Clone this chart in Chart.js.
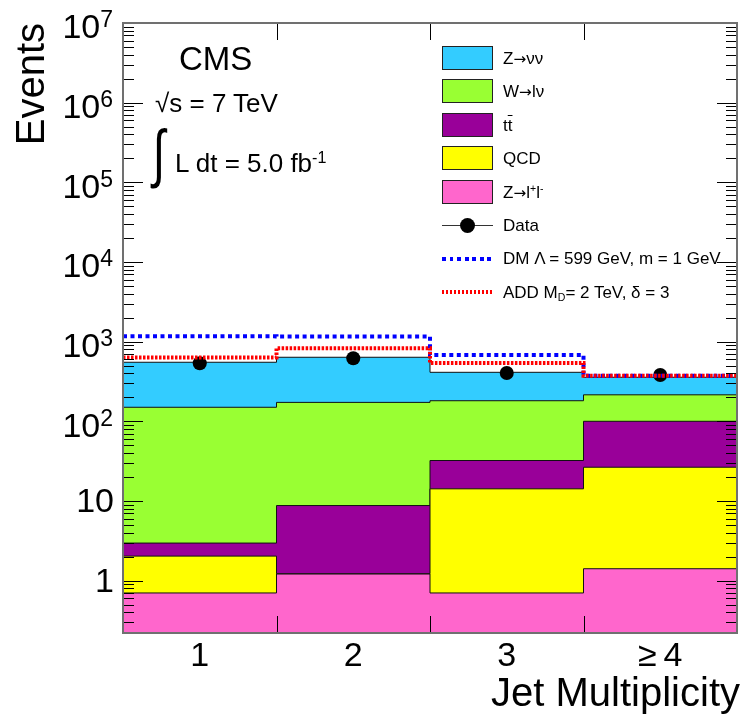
<!DOCTYPE html>
<html>
<head>
<meta charset="utf-8">
<script src="https://cdn.jsdelivr.net/npm/chart.js@4.4.1/dist/chart.umd.min.js"></script>
<style>
  body { margin: 0; background: #fff; }
  #wrap { position: relative; width: 744px; height: 716px; font-family: "Liberation Sans", Arial, sans-serif; color: #000; }
  #wrap canvas { position: absolute; left: 0; top: 0; }
  .txt { position: absolute; white-space: nowrap; line-height: 1; }
  .txt sup { font-size: 62%; vertical-align: 0.55em; line-height: 0; }
  .txt sub { font-size: 62%; vertical-align: -0.25em; line-height: 0; }
  .arrow { font-family: "DejaVu Sans", sans-serif; font-size: 90%; }
  .box { position: absolute; left: 442px; width: 49px; height: 22px; border: 1.5px solid #222; }
  .leg { position: absolute; left: 503px; font-size: 17px; line-height: 1; white-space: nowrap; }
  .sym { position: absolute; left: 442px; width: 51px; }
</style>
</head>
<body>
<div id="wrap">
  <canvas id="chart" width="744" height="716"></canvas>

  <div class="txt" style="left:179px; top:42px; font-size:33px">CMS</div>
  <div class="txt" style="left:155px; top:90px; font-size:26px">√s = 7 TeV</div>
  <div class="txt" style="left:150px; top:121px; font-size:64px; transform:scaleX(0.7)">∫</div>
  <div class="txt" style="left:175px; top:150px; font-size:26px">L dt = 5.0 fb<sup>-1</sup></div>

  <div id="legend"></div>
</div>

<script>
// bins of the histogram
const BIN_LABELS = ["1", "2", "3", "≥\u20094"]
const BIN_EDGES = [0, 1, 2, 3, 4]

// backgrounds, events per bin (stacked bottom to top)
// QCD in bin 2 is too small to see, a log axis can't take 0
const ZLL = [0.70, 1.21, 0.70, 1.41]
const QCD = [1.33, 0.01, 13.5, 25.1]
const TTBAR = [0.93, 7.54, 18.0, 73.5]
const WLNU = [147, 164, 149, 115]
const ZNUNU = [401, 464, 231, 142]

// data and signals
const DATA = [535, 618, 404, 381]
const DM = [1169, 1156, 681, 373]
const ADD = [630, 826, 540, 373]

// y axis
const Y_LABELS = [1, 10, 100, 1000, 1e4, 1e5, 1e6, 1e7]
const Y_MIN = 0.22
const Y_MAX = 1e7

const FONT = "'Liberation Sans', Arial, sans-serif"


// histogram points for stepped line
function steps(values) {
  const points = values.map(function (v, i) {
    return { x: BIN_EDGES[i], y: v }
  })
  points.push({ x: BIN_EDGES[values.length], y: values[values.length - 1] })
  return points
}


// background datasets, each filled down to the axis,
// lower ones are drawn later and cover the upper ones
const backgrounds = [
  { label: "Z→l+l-", values: ZLL, color: "#ff66cc" },
  { label: "QCD", values: QCD, color: "#ffff00" },
  { label: "tt", values: TTBAR, color: "#990099" },
  { label: "W→lν", values: WLNU, color: "#99ff33" },
  { label: "Z→νν", values: ZNUNU, color: "#33ccff" },
]

const datasets = backgrounds.map(function (b) {
  return {
    label: b.label,
    data: steps(b.values),
    stepped: true,
    fill: "start",
    backgroundColor: b.color,
    borderColor: "#111",
    borderWidth: 1,
    pointRadius: 0,
    stack: "mc",
  }
})

datasets.push({
  label: "Data",
  data: DATA.map(function (v, i) { return { x: i + 0.5, y: v } }),
  showLine: false,
  pointRadius: 7,
  pointBackgroundColor: "#000",
  pointBorderWidth: 0,
  stack: "data",
  order: -1,
})

datasets.push({
  label: "DM",
  data: steps(DM),
  stepped: true,
  fill: false,
  borderColor: "#0000ff",
  borderWidth: 4,
  borderDash: [4, 3.5],
  pointRadius: 0,
  stack: "dm",
  order: -2,
})

datasets.push({
  label: "ADD",
  data: steps(ADD),
  stepped: true,
  fill: false,
  borderColor: "#ff0000",
  borderWidth: 4,
  borderDash: [2.5, 1.5],
  pointRadius: 0,
  stack: "add",
  order: -3,
})


// y label like 10^3
function drawYLabel(ctx, value, y) {
  const exp = Math.round(Math.log10(value))
  ctx.fillStyle = "#000"
  ctx.textBaseline = "middle"
  ctx.textAlign = "right"

  if (exp < 2) {
    ctx.font = "34px " + FONT
    ctx.fillText(String(value), 114, y + 2)
    return
  }

  ctx.font = "23px " + FONT
  const supWidth = ctx.measureText(String(exp)).width
  ctx.fillText(String(exp), 113, y - 2)
  ctx.font = "34px " + FONT
  ctx.fillText("10", 113 - supWidth, y + 6)
}


// frame, ticks and labels
const framePlugin = {
  id: "frame",
  afterDatasetsDraw: function (chart) {
    const ctx = chart.ctx
    const area = chart.chartArea
    const xs = chart.scales.x
    const ys = chart.scales.y

    ctx.save()
    ctx.strokeStyle = "#000"
    ctx.lineWidth = 1

    // y ticks, both sides
    for (let e = -1; e <= 6; e++) {
      for (let m = 1; m <= 9; m++) {
        const v = m * Math.pow(10, e)
        if (v < Y_MIN || v > Y_MAX) continue
        const y = Math.round(ys.getPixelForValue(v)) + 0.5
        const len = m === 1 ? 20 : 11
        ctx.beginPath()
        ctx.moveTo(area.left, y)
        ctx.lineTo(area.left + len, y)
        ctx.moveTo(area.right, y)
        ctx.lineTo(area.right - len, y)
        ctx.stroke()
      }
    }

    // x ticks at bin edges
    BIN_EDGES.slice(1, -1).forEach(function (edge) {
      const x = Math.round(xs.getPixelForValue(edge)) + 0.5
      ctx.beginPath()
      ctx.moveTo(x, area.bottom)
      ctx.lineTo(x, area.bottom - 17)
      ctx.moveTo(x, area.top)
      ctx.lineTo(x, area.top + 17)
      ctx.stroke()
    })

    // frame
    ctx.strokeStyle = "#707070"
    ctx.lineWidth = 2
    ctx.strokeRect(area.left, area.top, area.right - area.left, area.bottom - area.top)

    // y labels
    Y_LABELS.forEach(function (v) {
      drawYLabel(ctx, v, ys.getPixelForValue(v))
    })

    // x labels
    ctx.font = "34px " + FONT
    ctx.textAlign = "center"
    ctx.textBaseline = "middle"
    BIN_LABELS.forEach(function (label, i) {
      ctx.fillText(label, xs.getPixelForValue(i + 0.5), 657)
    })

    // axis titles
    ctx.font = "40px " + FONT
    ctx.textAlign = "right"
    ctx.textBaseline = "alphabetic"
    ctx.fillText("Jet Multiplicity", 740, 706)

    ctx.translate(44, 23)
    ctx.rotate(-Math.PI / 2)
    ctx.fillText("Events", 0, 0)

    ctx.restore()
  },
}


// chart
new Chart(document.getElementById("chart"), {
  type: "line",
  data: { datasets: datasets },
  options: {
    responsive: false,
    devicePixelRatio: 1,
    animation: false,
    layout: { padding: { left: 123, top: 23, right: 1, bottom: 83 } },
    plugins: {
      legend: { display: false },
      tooltip: { enabled: false },
    },
    scales: {
      x: { type: "linear", display: false, min: 0, max: 4 },
      y: { type: "logarithmic", display: false, min: Y_MIN, max: Y_MAX, stacked: true },
    },
  },
  plugins: [framePlugin],
})


// legend entries
const ARROW = "<span class=\"arrow\">→</span>"
const LEGEND = [
  { kind: "box", color: "#33ccff", html: "Z" + ARROW + "νν" },
  { kind: "box", color: "#99ff33", html: "W" + ARROW + "lν" },
  { kind: "box", color: "#990099", html: "t<span style=\"text-decoration:overline\">t</span>" },
  { kind: "box", color: "#ffff00", html: "QCD" },
  { kind: "box", color: "#ff66cc", html: "Z" + ARROW + "l<sup>+</sup>l<sup>-</sup>" },
  { kind: "data", html: "Data" },
  { kind: "dm", html: "DM Λ = 599 GeV, m = 1 GeV" },
  { kind: "add", html: "ADD M<sub>D</sub>= 2 TeV, δ = 3" },
]

const ROW_Y = [58, 91.5, 125, 158.5, 192, 225.5, 258.5, 292]

const legend = document.getElementById("legend")
LEGEND.forEach(function (entry, i) {
  const cy = ROW_Y[i]
  let sym = ""

  if (entry.kind === "box") {
    sym = `<div class="box" style="top:${cy - 12.5}px; background:${entry.color}"></div>`
  } else if (entry.kind === "data") {
    sym = `<div class="sym" style="top:${cy - 0.5}px; height:1px; background:#333"></div>
      <div style="position:absolute; left:460px; top:${cy - 7.5}px; width:15px; height:15px; border-radius:50%; background:#000"></div>`
  } else if (entry.kind === "dm") {
    sym = `<div class="sym" style="top:${cy - 2}px; height:4px; background:repeating-linear-gradient(90deg, #0000ff 0 4px, transparent 4px 7.5px)"></div>`
  } else {
    sym = `<div class="sym" style="top:${cy - 2}px; height:4px; background:repeating-linear-gradient(90deg, #ff0000 0 2.5px, transparent 2.5px 4px)"></div>`
  }

  legend.insertAdjacentHTML("beforeend", sym +
    `<div class="leg txt" style="top:${cy - 8.5}px">${entry.html}</div>`)
})
</script>
</body>
</html>
